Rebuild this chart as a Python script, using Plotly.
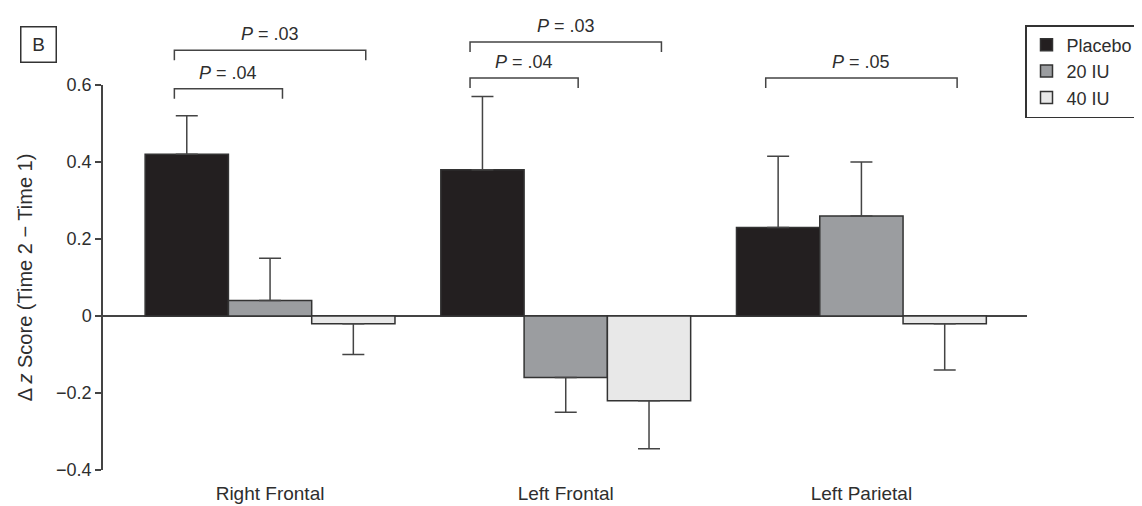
import plotly.graph_objects as go

# ---- data ----
categories = ["Right Frontal", "Left Frontal", "Left Parietal"]
series_names = ["Placebo", "20 IU", "40 IU"]
placebo = [0.42, 0.38, 0.23]
placebo_err = [0.10, 0.19, 0.185]
iu20 = [0.04, -0.16, 0.26]
iu20_err = [0.11, 0.09, 0.14]
iu40 = [-0.02, -0.22, -0.02]
iu40_err = [0.08, 0.125, 0.12]

y_ticks = [-0.4, -0.2, 0, 0.2, 0.4, 0.6]
y_tick_labels = ["\u22120.4", "\u22120.2", "0", "0.2", "0.4", "0.6"]

# comparisons: (category index, from series, to series, label)
comparisons = [
    (0, 0, 2, "<i>P</i> = .03"),
    (0, 0, 1, "<i>P</i> = .04"),
    (1, 0, 2, "<i>P</i> = .03"),
    (1, 0, 1, "<i>P</i> = .04"),
    (2, 0, 2, "<i>P</i> = .05"),
]
bracket_levels = [0.69, 0.59, 0.712, 0.618, 0.618]

# ---- style ----
FONT = "Liberation Sans, Arial, sans-serif"
INK = "#2e2e2e"
colors = ["#231f20", "#9b9da0", "#e8e8e8"]
bargap = 0.155
y_range = [-0.4, 0.6]
x_range = [-0.565, 2.56]

W, H = 1142, 506
ML, MR, MT, MB = 95, 123, 77, 44
PW, PH = W - ML - MR, H - MT - MB

fig = go.Figure()
values = [placebo, iu20, iu40]
errs = [placebo_err, iu20_err, iu40_err]
for name, vals, err, col in zip(series_names, values, errs, colors):
    plus = [e if v >= 0 else 0 for v, e in zip(vals, err)]
    minus = [e if v < 0 else 0 for v, e in zip(vals, err)]
    fig.add_trace(go.Bar(
        name=name, x=list(range(len(categories))), y=vals,
        marker=dict(color=col, line=dict(color="#333333", width=1.5)),
        error_y=dict(type="data", symmetric=False, array=plus, arrayminus=minus,
                     color="#444444", thickness=1.5, width=11),
    ))

# brackets
bw = (1 - bargap) / 3
leg = 0.026
pad = 0.042
span = y_range[1] - y_range[0]
shapes = []
annotations = []
for (ci, a, b, label), lvl in zip(comparisons, bracket_levels):
    x0 = ci + (a - 1) * bw - pad
    x1 = ci + (b - 1) * bw + pad
    yt = (lvl - y_range[0]) / span
    yl = (lvl - leg - y_range[0]) / span
    shapes.append(dict(type="path", xref="x", yref="paper",
                       path=f"M {x0},{yl} L {x0},{yt} L {x1},{yt} L {x1},{yl}",
                       line=dict(color="#444444", width=1.5)))
    annotations.append(dict(x=(x0 + x1) / 2, y=yt, xref="x", yref="paper",
                            text=label, showarrow=False, yanchor="middle",
                            yshift=16, font=dict(family=FONT, size=18, color=INK)))

# panel label "B" in a box
annotations.append(dict(x=(30 - ML) / PW, y=(MT + PH - 36) / PH, xref="paper", yref="paper",
                        text="B", showarrow=False, xanchor="center", yanchor="middle",
                        width=32, height=32, bordercolor="#333333", borderwidth=1.5,
                        font=dict(family=FONT, size=19, color=INK)))

fig.update_layout(
    width=W, height=H,
    margin=dict(l=ML, r=MR, t=MT, b=MB, autoexpand=False),
    paper_bgcolor="white", plot_bgcolor="white",
    barmode="group", bargap=bargap, bargroupgap=0,
    font=dict(family=FONT, size=18, color=INK),
    showlegend=True,
    legend=dict(x=(1017 - ML) / PW, xanchor="left", y=(MT + PH - 17) / PH, yanchor="top",
                bgcolor="white", bordercolor="#333333", borderwidth=1.5,
                font=dict(family=FONT, size=18, color=INK)),
    shapes=shapes,
    annotations=annotations,
)

fig.update_xaxes(range=x_range, tickmode="array",
                 tickvals=list(range(len(categories))), ticktext=categories,
                 showline=False, showgrid=False, zeroline=False, ticks="",
                 ticklabelstandoff=10,
                 tickfont=dict(family=FONT, size=19, color=INK))
fig.update_yaxes(range=y_range, tickmode="array", tickvals=y_ticks,
                 ticktext=y_tick_labels,
                 showline=True, linecolor="#444444", linewidth=1.5,
                 ticks="outside", ticklen=6, tickwidth=1.5, tickcolor="#444444",
                 showgrid=False, zeroline=True, zerolinecolor="#444444",
                 zerolinewidth=1.5,
                 tickfont=dict(family=FONT, size=18, color=INK),
                 title=dict(text="\u0394 <i>z</i> Score (Time 2 \u2212 Time 1)",
                            standoff=18,
                            font=dict(family=FONT, size=20, color=INK)))

fig.write_html("out.html")
